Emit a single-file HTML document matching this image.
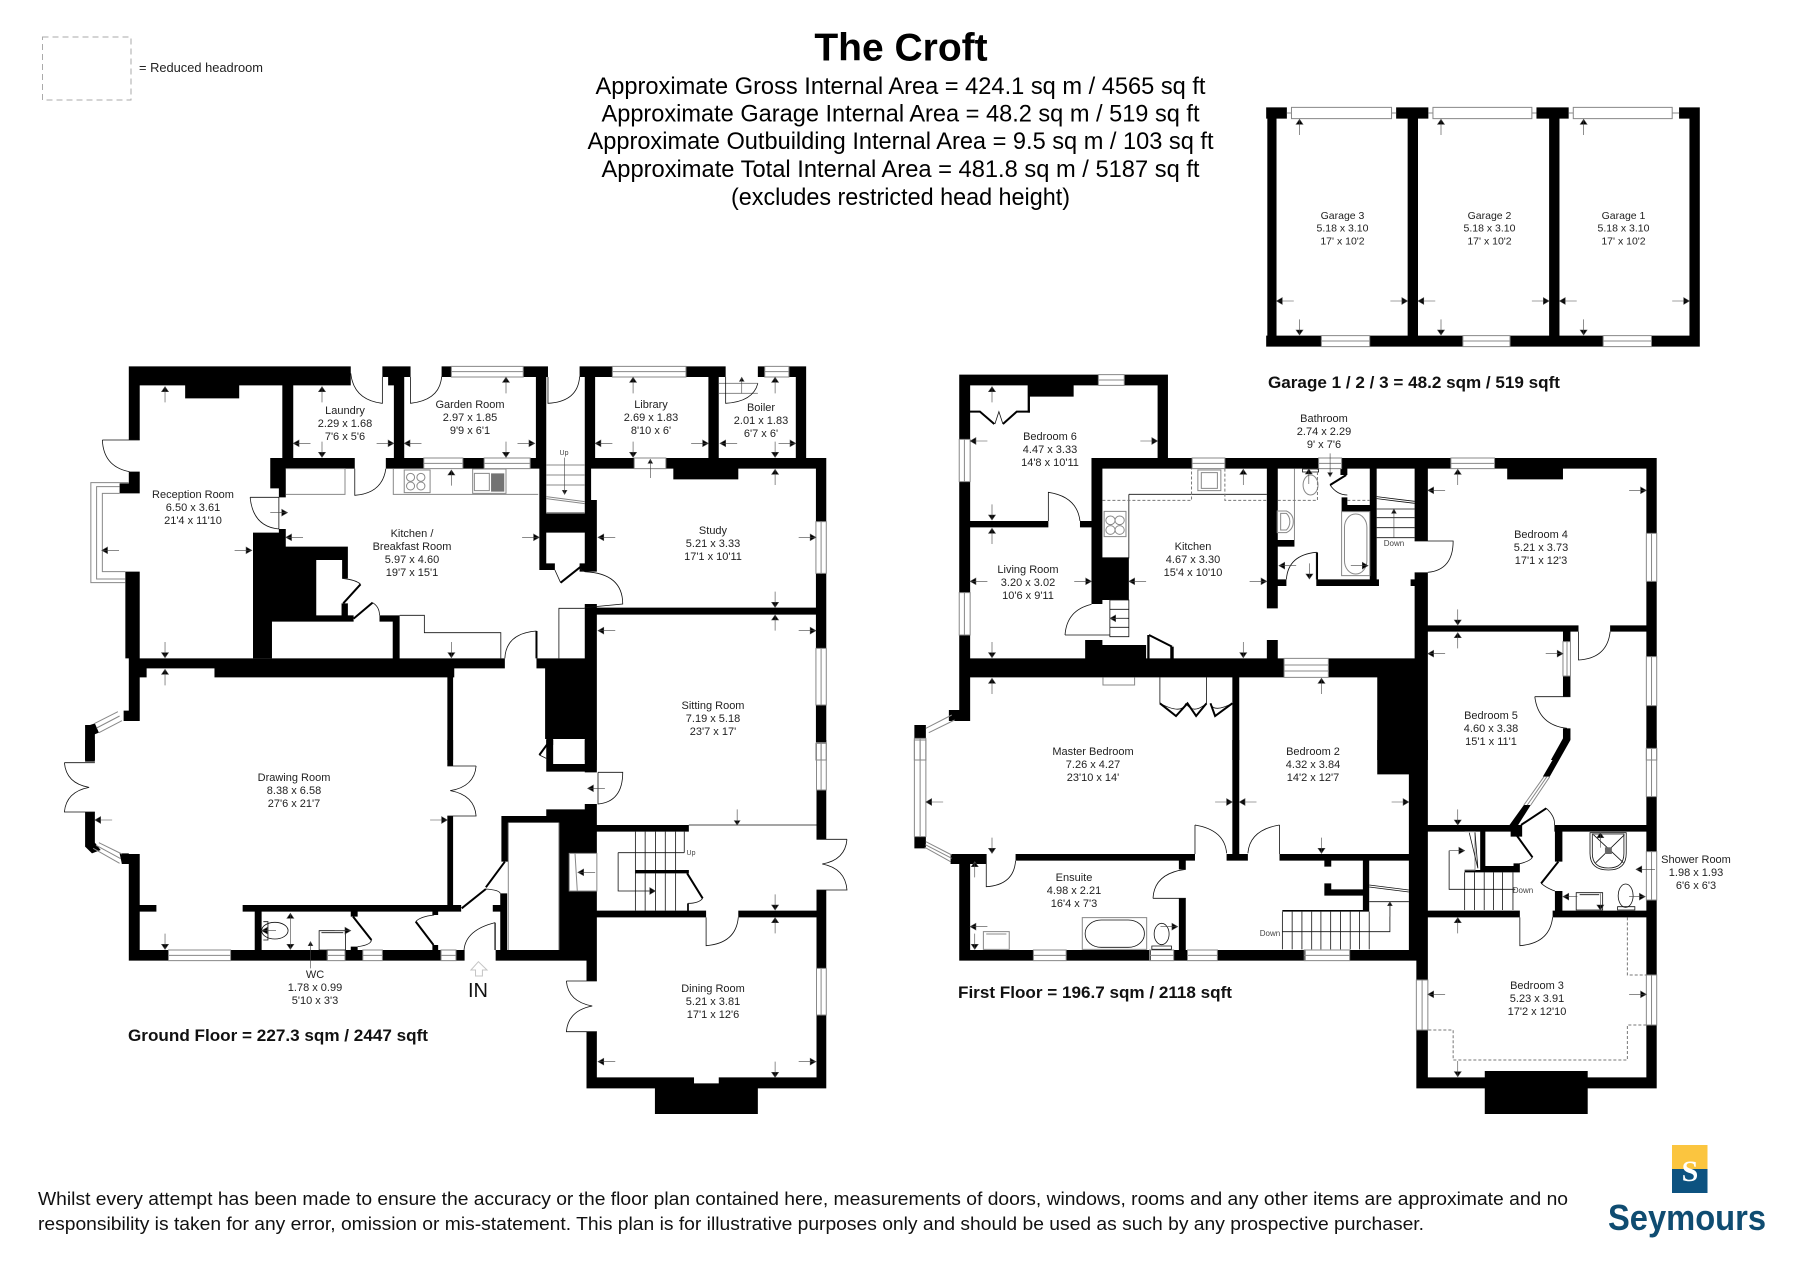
<!DOCTYPE html>
<html><head><meta charset="utf-8"><title>The Croft</title>
<style>
html,body{margin:0;padding:0;background:#fff}
svg{display:block}
.k{fill:#000;stroke:none}
.n{fill:#fff;stroke:none}
.l{fill:none;stroke:#111;stroke-width:.8;vector-effect:non-scaling-stroke}
.t{fill:none;stroke:#000;stroke-width:2;vector-effect:non-scaling-stroke}
.w{fill:none;stroke:#888;stroke-width:1;vector-effect:non-scaling-stroke}
.a{fill:#000;stroke:#444;stroke-width:.6;vector-effect:non-scaling-stroke}
.d{fill:none;stroke:#777;stroke-width:1;stroke-dasharray:3 2;vector-effect:non-scaling-stroke}
text{font-family:"Liberation Sans",sans-serif}
.r text,.r{font-size:11px;fill:#222;text-anchor:middle}
.g{font-size:10.5px;fill:#222;text-anchor:middle}
.h{font-size:24px;fill:#000;text-anchor:middle}
.b{font-size:17px;font-weight:bold;fill:#111}
.s{font-size:8px;fill:#444;text-anchor:middle}
</style></head><body>
<svg xmlns="http://www.w3.org/2000/svg" width="1800" height="1272" viewBox="0 0 1800 1272">
<rect width="1800" height="1272" fill="#fff"/>

<!-- Ground floor upper -->
<g transform="translate(0,340) scale(.575,.33333)">
<path class="k" d="M224 79H610V136H224Z M224 136H243V300H224Z M322 136H416V175H322Z M491 136H510V355H491Z M598 111H610V136H598Z M665 79H714V111H665Z M675 111H685V136H675Z M685 111H703V355H685Z M768 79H785V111H768Z M910 79H953V111H910Z M932 111H950V386H932Z M938 386H950V690H938Z M1008 79H1065V111H1008Z M1193 79H1262V111H1193Z M1017 111H1035V355H1017Z M1232 111H1250V355H1232Z M1318 79H1330V111H1318Z M1372 79H1402V111H1372Z M1384 111H1402V355H1384Z
M470 354H617V386H470Z M470 386H497V445H470Z M485 445H497V472H485Z M671 354H737V386H671Z M805 354H842V386H805Z M922 354H950V386H922Z M1017 354H1103V386H1017Z M1158 354H1437V386H1158Z M1171 386H1284V418H1171Z M1419 386H1437V545H1419Z M1419 700H1437V803H1419Z M1017 803H1437V824H1017Z M1419 824H1437V925H1419Z M1419 1095H1437V1210H1419Z
M1017 386H1028V482H1017Z M1017 480H1038V695H1017Z M1008 670H1017V695H1008Z M950 520H1017V578H950Z M938 670H965V690H938Z M1017 792H1038V803H1017Z M1017 824H1038V1260H1017Z
M224 395H243V460H224Z M208 430H224V460H208Z M218 695H243V955H218Z M224 955H878V985H224Z M373 985H790V1012H373Z M778 1012H788V1260H778Z M933 955H1017V985H933Z M948 985H1017V1197H948Z M1017 955H1038V1260H1017Z M950 1197H962V1215H950Z
M224 985H243V1112H224Z M243 985H255V1012H243Z M215 1112H243V1143H215Z M148 1155H165V1260H148Z M660 826H695V845H660Z M683 845H695V955H683Z"/>
<path class="k" d="M440 578H485V567H497V620H605V715H595V660H550V826H594V790H605V826H615V845H473V955H440Z M148 1160L165 1150L172 1178L155 1190Z"/>
<path class="w" d="M785 79H910V111H785Z M785 95H910 M737 354H805V386H737Z M737 370H805 M842 354H922V386H842Z M842 370H922 M1065 79H1193V111H1065Z M1065 95H1193 M1330 79H1372V111H1330Z M1330 95H1372 M1103 354H1158V386H1103Z M1419 545H1437V700H1419Z M1428 545V700 M1419 925H1437V1095H1419Z M1428 925V1095 M1419 1210H1437V1260H1419Z M1428 1210V1260
M224 428H158V728H218 M208 440H168V717H218 M208 460H178V695H218
M165 1150L205 1115 M172 1178L212 1142 M168 1164L208 1128
M684 387V463H936 M497 386H600V463H497 M950 375H1017 M950 405H1017 M950 435H1017 M950 470L1017 485 M950 476L1017 491 M950 518H1017 M1250 130H1318 M1250 160H1318"/>
<path class="w" d="M703 390H748V458H703Z M822 387H880V460H822Z M825 400H851V452H825Z"/>
<ellipse class="w" cx="714" cy="412" rx="7" ry="12"/><ellipse class="w" cx="732" cy="412" rx="7" ry="12"/><ellipse class="w" cx="714" cy="438" rx="7" ry="12"/><ellipse class="w" cx="732" cy="438" rx="7" ry="12"/>
<path class="k" d="M854 400H877V455H854Z" opacity=".55"/>
<path class="l" d="M665 111V190Q615 180 610 100 M714 111V190Q765 180 768 110 M953 111V190Q1005 185 1008 110 M1262 111V190Q1310 185 1318 130 M178 300H243 M178 300Q180 380 225 395 M617 386V466Q665 460 671 386 M435 472H485 M435 472Q440 560 485 567 M485 472V567 M595 715Q620 720 627 733 M648 788Q660 800 660 826 M1017 695Q1083 700 1083 792L1017 803 M933 873Q880 880 878 955 M965 690L975 728 M695 826H738V878H871V955 M972 955V805H1017 M1017 695Q1008 690 1010 680"/>
<path class="t" d="M627 733L597 790 M615 836L648 788 M975 728L1010 680 M933 873V955"/>
<path class="a" d="M287 140v47M287 140l-6 15h12z M560 140v47M560 140l-6 15h12z M880 112v48M880 112l-6 15h12z M1101 112v48M1101 112l-6 15h12z M1348 112v48M1348 112l-6 15h12z M1290 112v48M1290 112l-4 12h8z M785 390v47M785 390l-6 15h12z M1348 388v47M1348 388l-6 15h12z M1131 358v56M1131 358l-4 12h8z M1348 825v47M1348 825l-6 15h12z M287 988v48M287 988l-6 15h12z
M560 352v-47M560 352l-6-15h12z M880 352v-47M880 352l-6-15h12z M1101 352v-47M1101 352l-6-15h12z M1348 352v-47M1348 352l-6-15h12z M287 953v-47M287 953l-6-15h12z M785 953v-47M785 953l-6-15h12z M1348 802v-47M1348 802l-6-15h12z M982 463v-110M982 463l-4-12h8z
M510 310h30M510 310l10-10v20z M703 310h30M703 310l10-10v20z M1035 310h30M1035 310l10-10v20z M1252 310h30M1252 310l10-10v20z M497 592h30M497 592l10-10v20z M1040 592h30M1040 592l10-10v20z M1040 872h30M1040 872l10-10v20z M177 631h30M177 631l10-10v20z
M685 310h-30M685 310l-10-10v20z M930 310h-30M930 310l-10-10v20z M1232 310h-30M1232 310l-10-10v20z M1384 310h-30M1384 310l-10-10v20z M938 592h-30M938 592l-10-10v20z M1419 592h-30M1419 592l-10-10v20z M1419 872h-30M1419 872l-10-10v20z M438 631h-30M438 631l-10-10v20z M500 518h-30M500 518l-10-10v20z"/>
</g>

<!-- Ground floor lower -->
<g transform="translate(0,740) scale(.575,.33333)">
<path class="k" d="M148 0H165V65H148Z M148 216H165V320H148Z M224 342H243V630H224Z M212 342H224V372H212Z M243 495H272V515H243Z M224 630H293V662H224Z M401 630H570V662H401Z M600 630H631V662H600Z M665 630H767V662H665Z M793 630H808V662H793Z M862 630H1020V662H862Z M422 495H802V515H422Z M443 515H455V630H443Z M610 515H622V530H610Z M610 620H622V630H610Z M752 515H762V525H752Z M752 615H762V630H752Z M778 0H788V78H778Z M778 228H788V495H778Z M872 228H884V365H872Z M884 228H972V248H884Z M972 225H1038V660H972Z M950 208H1038V248H950Z M1017 192H1038V208H1017Z M1017 0H1038V97H1017Z M950 0H962V72H950Z M950 72H1017V95H950Z M870 460H882V630H870Z M857 495H870V515H857Z M1038 255H1198V275H1038Z M1420 0H1437V8H1420Z M1420 150H1437V298H1420Z M1420 450H1437V685H1420Z M1420 825H1437V1045H1420Z M1038 512H1228V532H1038Z M1284 512H1437V532H1284Z M1105 390H1198V400H1105Z M1195 490H1198V512H1195Z M1020 532H1038V723H1020Z M1020 875H1038V1045H1020Z M1020 1012H1207V1045H1020Z M1250 1012H1437V1045H1250Z M1207 1030H1250V1045H1207Z M1139 1045H1318V1122H1139Z"/>
<path class="k" d="M148 320L165 308L175 330L160 340Z M208 340H224V372H212Z"/>
<rect class="n" x="990" y="340" width="48" height="113"/>
<path class="w" d="M1420 8H1437V150H1420Z M1428 8V150 M1420 685H1437V825H1420Z M1428 685V825 M293 630H401V662H293Z M293 646H401 M569 630H600V662H569Z M569 646H600 M631 630H665V662H631Z M631 646H665 M767 630H793V662H767Z M767 646H793 M172 308L212 342 M162 325L208 370 M167 316L210 356 M884 248V630 M972 248V630 M990 340H1038V453H990Z M1000 340L1004 453"/>
<path class="l" d="M1105 275V512 M1122 275V390 M1140 275V390 M1157 275V390 M1175 275V390 M1190 275V338 M1122 400V512 M1140 400V512 M1157 400V512 M1175 400V512 M1075 338H1190 M1075 338V453H1140 M1198 255H1420 M112 68H165 M112 68Q115 130 155 142Q115 155 112 216H165 M778 78H828 M828 78Q825 140 783 152Q825 165 828 228H778 M1420 298H1473 M1473 298Q1470 360 1430 372Q1470 385 1473 450H1420 M1228 532V617Q1280 610 1284 532 M985 723H1038 M985 723Q988 785 1030 798Q988 812 985 875H1038 M1040 97H1083Q1083 185 1040 192V97 M861 548Q810 570 807 630 M845 447Q868 450 870 460 M755 525Q730 530 723 545 M622 620Q645 615 646 600 M1222 475Q1215 490 1197 490 M938 45L950 55 M555 572H601V630H555Z M559 578H597 M458 545H466V600H458"/>
<path class="t" d="M878 365L845 442 M845 447L803 505 M614 530L646 600 M723 545L754 615 M1195 400L1222 475 M955 5L938 45"/>
<path fill="none" stroke="#000" stroke-width="1.2" vector-effect="non-scaling-stroke" d="M861 548V630"/>
<ellipse class="l" cx="478" cy="572" rx="23" ry="25"/>
<path fill="none" stroke="#c4c4c4" stroke-width="1" vector-effect="non-scaling-stroke" d="M832 665L819 690H827V708H839V690H847Z"/>
<path class="a" d="M165 240h30M165 240l10-10v20z M778 240h-30M778 240l-10-10v20z M287 628v-47M287 628l-6-15h12z M1348 510v-47M1348 510l-6-15h12z M1282 255v-47M1282 255l-5-13h10z M1348 1012v-47M1348 1012l-6-15h12z M1348 533v47M1348 533l-6 15h12z M1040 965h30M1040 965l10-10v20z M1419 965h-30M1419 965l-10-10v20z M1005 397h30M1005 397l10-10v20z M1140 453h-30M1140 453l-10-10v20z M1022 145h30M1022 145l10-10v20z M505 520v108M505 520l-6 15h12zM505 628l-6-15h12z M455 572h25M455 572l10-10v20z M610 572h-28M610 572l-10-10v20z M540 605v80M540 605l-4 12h8z"/>
</g>

<!-- First floor upper -->
<g transform="translate(900,340) scale(.575,.33333)">
<path class="k" d="M103 104H345V136H103Z M390 104H466V136H390Z M222 136H302V170H222Z M222 170H226V218H222Z M103 136H122V298H103Z M103 425H122V758H103Z M103 885H122V955H103Z M103 955H668V1012H103Z M745 955H830V1012H745Z M830 955H918V1260H830Z M448 136H466V354H448Z M122 543H258V562H122Z M313 543H333V562H313Z M333 354H508V386H333Z M565 354H728V386H565Z M768 354H958V386H768Z M1034 354H1316V386H1034Z M1056 386H1153V418H1056Z M1298 386H1316V580H1298Z M1298 724H1316V950H1298Z M1298 1097H1316V1225H1298Z M333 386H352V655H333Z M333 652H398V780H333Z M333 780H352V792H333Z M322 900H352V955H322Z M352 915H428V955H352Z M430 885H434V955H430Z M470 920H476V955H470Z M638 386H657V805H638Z M657 600H686V620H657Z M657 718H672V738H657Z M638 900H657V955H638Z M724 718H833V738H724Z M724 637H727V718H724Z M817 386H829V738H817Z M766 386H778V405H766Z M768 472H778V495H768Z M768 495H817V515H768Z M895 386H918V603H895Z M895 697H918V955H895Z M888 718H895V738H888Z M918 856H1180V875H918Z M1235 856H1316V875H1235Z M1153 875H1166V905H1153Z M1153 1008H1166V1070H1153Z M1153 1165H1166V1200H1153Z M85 1110H122V1143H85Z M103 1012H122V1110H103Z M25 1155H45V1195H25Z M578 1012H590V1260H578Z"/>
<path class="k" d="M1153 1195L1166 1195L1145 1260H1132Z"/>
<path class="w" d="M345 104H390V136H345Z M345 120H390 M508 354H565V386H508Z M508 370H565 M728 354H768V386H728Z M728 370H768 M958 354H1034V386H958Z M958 370H1034 M103 298H122V425H103Z M112 298V425 M103 758H122V885H103Z M112 758V885 M1298 580H1316V724H1298Z M1307 580V724 M1298 950H1316V1097H1298Z M1307 950V1097 M1298 1225H1316V1260H1298Z M1307 1225V1260 M668 955H745V1012H668Z M668 975H745 M668 993H745 M1153 905H1166V1008H1153Z M1160 905V1008 M45 1165L90 1125 M50 1178L95 1140 M25 1195H45V1260H25Z M35 1195V1260 M353 1012V1035H408V1012 M686 386V600 M768 515H817V707H768Z"/>
<rect class="w" x="773" y="522" width="39" height="180" rx="19" ry="40"/>
<path class="l" d="M258 543V457Q308 470 313 543 M895 603H962Q962 690 918 697 M724 718V637Q675 645 672 718 M1180 875V960Q1230 955 1235 875 M1104 1070H1166 M1104 1070Q1110 1155 1160 1165 M287 885H365 M287 885Q290 810 333 793 M365 780H398V890H365Z M365 808H398 M365 835H398 M365 862H398 M398 463H638 M398 463V655 M829 470L895 484 M829 476L895 490 M829 507H895 M829 533H895 M829 563H895 M829 593H895 M778 465Q760 465 748 435 M452 1012V1090 M533 1012V1090 M578 1090Q545 1120 540 1090 M452 1090Q490 1125 497 1090 M533 1090Q510 1125 497 1090 M165 252L172 215L179 252 M700 387H728V396H700Z"/>
<path class="t" d="M121 215H139L164 252 M179 252L203 215H226 M433 885L473 920 M776 405L748 435 M452 1090L480 1128L500 1090L515 1128L533 1090 M540 1090L548 1128L578 1090"/>
<path class="w" d="M518 390H558V452H518Z M524 398H552V445H524Z M355 514H393V590H355Z M656 513H672Q684 522 684 545Q684 568 672 578H656Z M662 520H672Q678 530 678 545Q678 560 672 570H662Z"/>
<ellipse class="w" cx="366" cy="541" rx="8" ry="13"/><ellipse class="w" cx="382" cy="541" rx="8" ry="13"/><ellipse class="w" cx="366" cy="570" rx="8" ry="13"/><ellipse class="w" cx="382" cy="570" rx="8" ry="13"/>
<ellipse class="w" cx="714" cy="435" rx="13" ry="30"/>
<path class="d" d="M352 481H507V386 M565 386V481H638 M657 481H726V386 M778 481H817"/>
<path class="a" d="M160 140v47M160 140l-6 15h12z M597 388v47M597 388l-6 15h12z M711 387v45M711 387l-6 15h12z M970 388v47M970 388l-6 15h12z M160 565v47M160 565l-6 15h12z M160 1015v47M160 1015l-6 15h12z M733 1015v47M733 1015l-6 15h12z M970 878v47M970 878l-6 15h12z M859 507v85M859 507l-4 13h8z M160 540v-47M160 540l-6-15h12z M160 953v-47M160 953l-6-15h12z M597 953v-47M597 953l-6-15h12z M970 855v-47M970 855l-6-15h12z M712 717v-47M712 717l-6-15h12z M748 410v-70M748 410l-4-12h8z
M122 303h30M122 303l10-10v20z M122 724h30M122 724l10-10v20z M398 724h30M398 724l10-10v20z M918 451h30M918 451l10-10v20z M918 941h30M918 941l10-10v20z M659 677h30M659 677l10-10v20z M365 835h30M365 835l10-10v20z
M448 303h-30M448 303l-10-10v20z M333 724h-30M333 724l-10-10v20z M638 724h-30M638 724l-10-10v20z M1298 451h-30M1298 451l-10-10v20z M1153 941h-30M1153 941l-10-10v20z M814 677h-30M814 677l-10-10v20z"/>
</g>

<!-- First floor lower -->
<g transform="translate(900,740) scale(.575,.33333)">
<path class="k" d="M578 0H590V342H578Z M830 0H885V103H830Z M885 0H918V630H885Z M898 630H918V720H898Z M898 870H918V1045H898Z M25 290H45V325H25Z M88 342H150V372H88Z M103 372H122V660H103Z M201 342H513V362H201Z M568 342H605V362H568Z M660 342H885V362H660Z M485 362H497V388H485Z M485 475H497V630H485Z M738 362H750V380H738Z M738 430H750V467H738Z M738 448H816V467H738Z M805 362H816V515H805Z M665 510H816V515H665Z M103 630H232V662H103Z M289 630H436V662H289Z M476 630H500V662H476Z M552 630H705V662H552Z M782 630H918V662H782Z M918 255H1062V275H918Z M1138 255H1316V275H1138Z M1009 275H1018V380H1009Z M982 390H1078V397H982Z M1009 378H1078V397H1009Z M1067 370H1078V397H1067Z M1298 0H1316V25H1298Z M1298 170H1316V255H1298Z M1298 275H1316V335H1298Z M1298 480H1316V705H1298Z M1298 855H1316V1045H1298Z M918 512H1078V532H918Z M1135 512H1316V532H1135Z M1139 275H1152V365H1139Z M1139 453H1152V512H1139Z M1062 255H1082V290H1062Z M898 1012H1316V1045H898Z M1017 993H1196V1122H1017Z"/>
<path class="k" d="M1155 0H1166L1130 110H1118Z M1085 195H1097L1075 255H1060Z"/>
<path class="w" d="M25 0H45V290H25Z M35 0V290 M45 305L90 345 M43 322L88 365 M44 314L90 355 M232 630H289V662H232Z M232 646H289 M434 630H476V662H434Z M434 646H476 M500 630H552V662H500Z M500 646H552 M703 630H782V662H703Z M703 646H782 M1298 25H1316V170H1298Z M1307 25V170 M1298 335H1316V480H1298Z M1307 335V480 M898 720H918V870H898Z M908 720V870 M1298 705H1316V855H1298Z M1307 705V855 M1120 110L1085 195 M1130 110L1097 195 M1125 110L1091 195 M145 575H190V628H145Z M150 582H185 M317 533H429V628H317Z M982 275H1000V390H982"/>
<rect class="l" x="322" y="540" width="103" height="82" rx="28" ry="40"/>
<ellipse class="l" cx="455" cy="582" rx="13" ry="32"/>
<path class="l" d="M438 618H472V628H438Z M513 255V342 M513 255Q565 270 568 340 M660 255V342 M660 255Q608 270 605 340 M440 475H497 M440 475Q442 400 497 388 M150 342V440Q198 435 201 362 M665 515V628 M682 515V628 M699 515V628 M716 515V628 M732 515V628 M749 515V628 M766 515V628 M783 515V628 M799 515V628 M816 515V628 M816 435L885 450 M816 441L885 456 M816 485H885 M852 487V575H665 M982 397V510 M999 397V510 M1016 397V510 M1032 397V510 M1048 397V510 M1066 397V510 M955 332V448H1070 M990 278L1005 385 M1000 278L1005 385 M1124 205Q1140 230 1138 255 M1100 352Q1095 365 1075 372 M1115 430Q1125 445 1139 453 M1078 532V617Q1130 610 1135 532 M1200 278H1263V340Q1263 390 1232 390Q1200 390 1200 340Z M1204 282H1259V340Q1259 384 1232 384Q1204 384 1204 340Z M1206 284L1258 368 M1260 284L1210 368 M1176 458H1222V510H1176Z M1182 464H1216 M1248 500H1278V510H1248Z"/>
<ellipse class="l" cx="1262" cy="467" rx="13" ry="35"/>
<rect x="1226" y="322" width="12" height="20" fill="#666"/>
<path class="t" d="M1080 255L1124 205 M1072 285L1100 352 M1145 365L1115 430"/>
<path class="d" d="M1265 532V705H1298 M1298 855H1265V960H962V870H918"/>
<path class="a" d="M982 332h-27M982 332l-10-10v20z M45 186h30M45 186l10-10v20z M590 186h30M590 186l10-10v20z M122 560h30M122 560l10-10v20z M918 763h30M918 763l10-10v20z M1153 470h25M1153 470l10-10v20z M1280 388h33M1280 388l10-10v20z
M578 186h-30M578 186l-10-10v20z M885 186h-30M885 186l-10-10v20z M483 560h-30M483 560l-10-10v20z M1298 763h-30M1298 763l-10-10v20z M1296 470h-28M1296 470l-10-10v20z
M160 340v-47M160 340l-6-15h12z M733 340v-47M733 340l-6-15h12z M970 255v-47M970 255l-6-15h12z M130 628v-47M130 628l-6-15h12z M1218 510v-50M1218 510l-6-15h12z M970 1010v-47M970 1010l-6-15h12z
M130 365v47M130 365l-6 15h12z M970 533v47M970 533l-6 15h12z M1218 278v45M1218 278l-6 15h12z M852 485v45M852 485l-4 12h8z"/>
</g>

<!-- Garage -->
<g transform="translate(-2.5,0) scale(1.1502,.33333)">
<path class="k" d="M1103 322H1121V356H1103Z M1216 322H1244V356H1216Z M1338 322H1366V356H1338Z M1462 322H1480V356H1462Z M1104 356H1112V1040H1104Z M1226 356H1235V1010H1226Z M1349 356H1358V1010H1349Z M1471 356H1480V1040H1471Z M1103 1007H1151V1040H1103Z M1193 1007H1274V1040H1193Z M1315 1007H1396V1040H1315Z M1438 1007H1480V1040H1438Z"/>
<path class="w" d="M1125 322H1212V356H1125Z M1248 322H1334V356H1248Z M1370 322H1456V356H1370Z M1121 339H1125 M1212 339H1216 M1244 339H1248 M1334 339H1338 M1366 339H1370 M1456 339H1462 M1151 1007H1193V1040H1151Z M1151 1023H1193 M1274 1007H1315V1040H1274Z M1274 1023H1315 M1396 1007H1438V1040H1396Z M1396 1023H1438"/>
<path class="a" d="M1132 358v47M1132 358l-3 15h6z M1255 358v47M1255 358l-3 15h6z M1379 358v47M1379 358l-3 15h6z M1132 1005v-47M1132 1005l-3-15h6z M1255 1005v-47M1255 1005l-3-15h6z M1379 1005v-47M1379 1005l-3-15h6z M1112 903h15M1112 903l5-10v20z M1235 903h15M1235 903l5-10v20z M1358 903h15M1358 903l5-10v20z M1226 903h-15M1226 903l-5-10v20z M1349 903h-15M1349 903l-5-10v20z M1471 903h-15M1471 903l-5-10v20z"/>
</g>

<rect x="42.5" y="37" width="88.5" height="63" fill="none" stroke="#aaa" stroke-width="1" stroke-dasharray="6 4"/>
<text x="139" y="72" font-size="12.5" fill="#222" textLength="124" lengthAdjust="spacingAndGlyphs">= Reduced headroom</text>

<text x="901" y="60.5" font-size="39" font-weight="bold" text-anchor="middle" fill="#000">The Croft</text>
<text class="h" x="900.5" y="94" textLength="610" lengthAdjust="spacingAndGlyphs">Approximate Gross Internal Area = 424.1 sq m / 4565 sq ft</text>
<text class="h" x="900.5" y="121.5" textLength="598" lengthAdjust="spacingAndGlyphs">Approximate Garage Internal Area = 48.2 sq m / 519 sq ft</text>
<text class="h" x="900.5" y="149" textLength="626" lengthAdjust="spacingAndGlyphs">Approximate Outbuilding Internal Area = 9.5 sq m / 103 sq ft</text>
<text class="h" x="900.5" y="177" textLength="598" lengthAdjust="spacingAndGlyphs">Approximate Total Internal Area = 481.8 sq m / 5187 sq ft</text>
<text class="h" x="900.5" y="205" textLength="339" lengthAdjust="spacingAndGlyphs">(excludes restricted head height)</text>

<g class="g">
<text x="1342.5" y="219">Garage 3<tspan x="1342.5" dy="12.7">5.18 x 3.10</tspan><tspan x="1342.5" dy="12.7">17' x 10'2</tspan></text>
<text x="1489.5" y="219">Garage 2<tspan x="1489.5" dy="12.7">5.18 x 3.10</tspan><tspan x="1489.5" dy="12.7">17' x 10'2</tspan></text>
<text x="1623.5" y="219">Garage 1<tspan x="1623.5" dy="12.7">5.18 x 3.10</tspan><tspan x="1623.5" dy="12.7">17' x 10'2</tspan></text>
</g>

<g class="r">
<text x="193" y="498">Reception Room<tspan x="193" dy="13">6.50 x 3.61</tspan><tspan x="193" dy="13">21'4 x 11'10</tspan></text>
<text x="345" y="414">Laundry<tspan x="345" dy="13">2.29 x 1.68</tspan><tspan x="345" dy="13">7'6 x 5'6</tspan></text>
<text x="470" y="408">Garden Room<tspan x="470" dy="13">2.97 x 1.85</tspan><tspan x="470" dy="13">9'9 x 6'1</tspan></text>
<text x="651" y="408">Library<tspan x="651" dy="13">2.69 x 1.83</tspan><tspan x="651" dy="13">8'10 x 6'</tspan></text>
<text x="761" y="411">Boiler<tspan x="761" dy="13">2.01 x 1.83</tspan><tspan x="761" dy="13">6'7 x 6'</tspan></text>
<text x="412" y="537">Kitchen /<tspan x="412" dy="13">Breakfast Room</tspan><tspan x="412" dy="13">5.97 x 4.60</tspan><tspan x="412" dy="13">19'7 x 15'1</tspan></text>
<text x="713" y="534">Study<tspan x="713" dy="13">5.21 x 3.33</tspan><tspan x="713" dy="13">17'1 x 10'11</tspan></text>
<text x="713" y="709">Sitting Room<tspan x="713" dy="13">7.19 x 5.18</tspan><tspan x="713" dy="13">23'7 x 17'</tspan></text>
<text x="294" y="781">Drawing Room<tspan x="294" dy="13">8.38 x 6.58</tspan><tspan x="294" dy="13">27'6 x 21'7</tspan></text>
<text x="315" y="978">WC<tspan x="315" dy="13">1.78 x 0.99</tspan><tspan x="315" dy="13">5'10 x 3'3</tspan></text>
<text x="713" y="992">Dining Room<tspan x="713" dy="13">5.21 x 3.81</tspan><tspan x="713" dy="13">17'1 x 12'6</tspan></text>
<text x="1050" y="440">Bedroom 6<tspan x="1050" dy="13">4.47 x 3.33</tspan><tspan x="1050" dy="13">14'8 x 10'11</tspan></text>
<text x="1324" y="422">Bathroom<tspan x="1324" dy="13">2.74 x 2.29</tspan><tspan x="1324" dy="13">9' x 7'6</tspan></text>
<text x="1193" y="550">Kitchen<tspan x="1193" dy="13">4.67 x 3.30</tspan><tspan x="1193" dy="13">15'4 x 10'10</tspan></text>
<text x="1028" y="573">Living Room<tspan x="1028" dy="13">3.20 x 3.02</tspan><tspan x="1028" dy="13">10'6 x 9'11</tspan></text>
<text x="1541" y="538">Bedroom 4<tspan x="1541" dy="13">5.21 x 3.73</tspan><tspan x="1541" dy="13">17'1 x 12'3</tspan></text>
<text x="1491" y="719">Bedroom 5<tspan x="1491" dy="13">4.60 x 3.38</tspan><tspan x="1491" dy="13">15'1 x 11'1</tspan></text>
<text x="1093" y="755">Master Bedroom<tspan x="1093" dy="13">7.26 x 4.27</tspan><tspan x="1093" dy="13">23'10 x 14'</tspan></text>
<text x="1313" y="755">Bedroom 2<tspan x="1313" dy="13">4.32 x 3.84</tspan><tspan x="1313" dy="13">14'2 x 12'7</tspan></text>
<text x="1074" y="881">Ensuite<tspan x="1074" dy="13">4.98 x 2.21</tspan><tspan x="1074" dy="13">16'4 x 7'3</tspan></text>
<text x="1696" y="863">Shower Room<tspan x="1696" dy="13">1.98 x 1.93</tspan><tspan x="1696" dy="13">6'6 x 6'3</tspan></text>
<text x="1537" y="989">Bedroom 3<tspan x="1537" dy="13">5.23 x 3.91</tspan><tspan x="1537" dy="13">17'2 x 12'10</tspan></text>
</g>

<text class="s" x="564" y="455" style="font-size:7px">Up</text>
<text class="s" x="691" y="855" style="font-size:7px">Up</text>
<text class="s" x="1394" y="546">Down</text>
<text class="s" x="1270" y="936">Down</text>
<text class="s" x="1523" y="893">Down</text>

<text x="478" y="997" font-size="20" text-anchor="middle" fill="#111">IN</text>

<text class="b" x="128" y="1041" textLength="300" lengthAdjust="spacingAndGlyphs">Ground Floor = 227.3 sqm / 2447 sqft</text>
<text class="b" x="958" y="998" textLength="274" lengthAdjust="spacingAndGlyphs">First Floor = 196.7 sqm / 2118 sqft</text>
<text class="b" x="1268" y="388" textLength="292" lengthAdjust="spacingAndGlyphs">Garage 1 / 2 / 3 = 48.2 sqm / 519 sqft</text>

<text x="38" y="1205" font-size="18.5" fill="#111" textLength="1530" lengthAdjust="spacingAndGlyphs">Whilst every attempt has been made to ensure the accuracy or the floor plan contained here, measurements of doors, windows, rooms and any other items are approximate and no</text>
<text x="38" y="1230" font-size="18.5" fill="#111" textLength="1386" lengthAdjust="spacingAndGlyphs">responsibility is taken for any error, omission or mis-statement. This plan is for illustrative purposes only and should be used as such by any prospective purchaser.</text>

<rect x="1672" y="1145" width="35.5" height="24" fill="#fbc53f"/>
<rect x="1672" y="1169" width="35.5" height="24" fill="#0d5280"/>
<text x="1690" y="1181" font-size="30" font-weight="bold" text-anchor="middle" fill="#fff" style="font-family:'Liberation Serif',serif">S</text>
<text x="1608" y="1230" font-size="36" font-weight="bold" fill="#0f4c71" textLength="158" lengthAdjust="spacingAndGlyphs">Seymours</text>
</svg>
</body></html>
